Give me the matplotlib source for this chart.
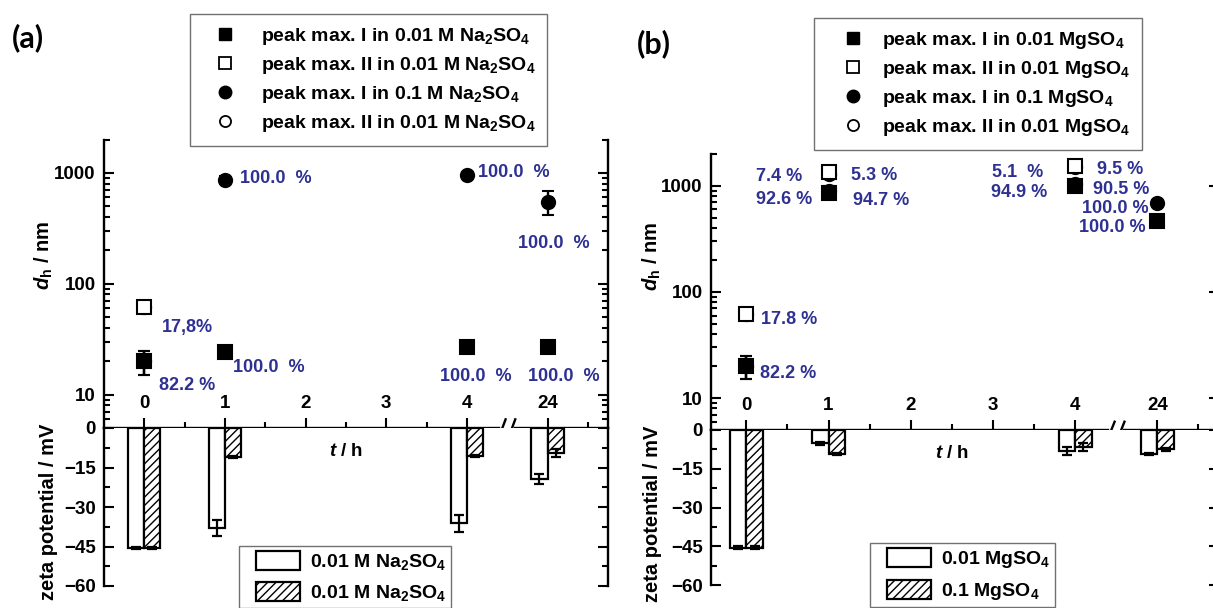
import matplotlib
matplotlib.use('Agg')
import matplotlib.pyplot as plt
import numpy as np
from matplotlib.lines import Line2D
from matplotlib.patches import Patch, Rectangle
from matplotlib.legend_handler import HandlerPatch
from matplotlib.ticker import FixedLocator, FixedFormatter, LogLocator, NullFormatter

plt.rcParams['font.family'] = ['Liberation Sans', 'DejaVu Sans']
plt.rcParams['font.weight'] = 'bold'
plt.rcParams['font.size'] = 13
plt.rcParams['mathtext.fontset'] = 'custom'
plt.rcParams['mathtext.rm'] = 'Liberation Sans:bold'
plt.rcParams['mathtext.it'] = 'Liberation Sans:bold:italic'
plt.rcParams['mathtext.bf'] = 'Liberation Sans:bold'
plt.rcParams['hatch.linewidth'] = 1.0

# time axis: 24 h sits after a break, one slot to the right of 4 h
time_labels = ['0', '1', '2', '3', '4', '24']
time_pos = [0, 1, 2, 3, 4, 5]
meas_pos = np.array([0, 1, 4, 5])

# (a) Na2SO4 - hydrodynamic diameter / nm
a_sq_fill = [20, 24, 27, 27]
a_sq_fill_err = [5, 2, 2, 2]
a_sq_open = [62]
a_sq_open_err = [4]
a_ci_fill = [20, 870, 960, 550]
a_ci_fill_err = [5, 60, 60, 130]
a_ci_open = [62]
a_ci_open_err = [4]
# zeta potential / mV
a_zeta_low = [-45.5, -38.0, -36.2, -19.4]
a_zeta_low_err = [0.5, 3.0, 3.3, 2.0]
a_zeta_high = [-45.5, -11.0, -10.7, -9.5]
a_zeta_high_err = [0.5, 0.5, 0.5, 1.5]

# (b) MgSO4
b_sq_fill = [20, 850, 1000, 470]
b_sq_fill_err = [5, 80, 90, 50]
b_sq_open = [62, 1350, 1550]
b_sq_open_err = [4, 120, 120]
b_ci_fill = [20, 900, 1050, 690]
b_ci_fill_err = [5, 90, 80, 50]
b_ci_open = [62, 1300, 1500]
b_ci_open_err = [4, 100, 100]
b_zeta_low = [-45.5, -5.2, -8.0, -9.3]
b_zeta_low_err = [0.5, 0.5, 1.5, 0.5]
b_zeta_high = [-45.5, -9.3, -6.5, -7.5]
b_zeta_high_err = [0.5, 0.5, 1.5, 0.5]

# percentage labels: (series, point index, text)
a_pct = [('ci_fill', 1, '100.0  %'), ('ci_fill', 2, '100.0  %'), ('ci_fill', 3, '100.0  %'),
         ('sq_open', 0, '17,8%'), ('sq_fill', 0, '82.2 %'), ('sq_fill', 1, '100.0  %'),
         ('sq_fill', 2, '100.0  %'), ('sq_fill', 3, '100.0  %')]
b_pct = [('sq_open', 0, '17.8 %'), ('sq_fill', 0, '82.2 %'),
         ('sq_open', 1, '7.4 %'), ('sq_fill', 1, '92.6 %'), ('ci_open', 1, '5.3 %'), ('ci_fill', 1, '94.7 %'),
         ('sq_open', 2, '5.1  %'), ('sq_fill', 2, '94.9 %'), ('ci_open', 2, '9.5 %'), ('ci_fill', 2, '90.5 %'),
         ('ci_fill', 3, '100.0 %'), ('sq_fill', 3, '100.0 %')]
# label placement: pixel offset from the point, alignment
a_pct_pos = [(15, 1, 'left'), (11, 2, 'left'), (-30, -42, 'left'), (18, -21, 'left'), (15, -24, 'left'),
             (8, -15, 'left'), (-27, -30, 'left'), (-20, -30, 'left')]
b_pct_pos = [(15, -5, 'left'), (14, -7, 'left'),
             (-26, -4, 'right'), (-16, -6, 'right'), (22, -2, 'left'), (24, -10, 'left'),
             (-32, -7, 'right'), (-28, -7, 'right'), (22, -2, 'left'), (18, -6, 'left'),
             (-9, -5, 'right'), (-12, -7, 'right')]

a_legend = ['peak max. I in 0.01 M Na$_2$SO$_4$', 'peak max. II in 0.01 M Na$_2$SO$_4$',
            'peak max. I in 0.1 M Na$_2$SO$_4$', 'peak max. II in 0.01 M Na$_2$SO$_4$']
b_legend = ['peak max. I in 0.01 MgSO$_4$', 'peak max. II in 0.01 MgSO$_4$',
            'peak max. I in 0.1 MgSO$_4$', 'peak max. II in 0.01 MgSO$_4$']
a_bar_legend = ['0.01 M Na$_2$SO$_4$', '0.01 M Na$_2$SO$_4$']
b_bar_legend = ['0.01 MgSO$_4$', '0.1 MgSO$_4$']

W, H = 1213, 608
fig = plt.figure(figsize=(W / 100, H / 100), dpi=100)
BLUE = '#2e3192'


def px_axes(left, right, top, bottom):
    return fig.add_axes([left / W, 1 - bottom / H, (right - left) / W, (bottom - top) / H])


def style(ax):
    for s in ax.spines.values():
        s.set_linewidth(1.7)
    ax.tick_params(which='both', direction='in', width=1.5, labelsize=13.5, right=True, top=False)
    ax.tick_params(which='major', length=7, pad=6)
    ax.tick_params(which='minor', length=4)


def shifted_patch(legend, orig_handle, xdescent, ydescent, width, height, fontsize):
    return Rectangle((-xdescent + 9, -ydescent), width - 9, height)


def panel(left, right, top, mid, bottom, xlim, series, pct, pct_pos, zeta):
    ax = px_axes(left, right, top, mid)
    bx = px_axes(left, right, mid, bottom)
    ax.patch.set_alpha(0)

    # upper part: log d_h
    ax.set_yscale('log')
    ax.set_ylim(5, 2000)
    ax.set_xlim(xlim)
    ax.spines['top'].set_visible(False)
    style(ax)
    ax.yaxis.set_major_locator(FixedLocator([10, 100, 1000]))
    ax.yaxis.set_major_formatter(FixedFormatter(['10', '100', '1000']))
    ax.yaxis.set_minor_locator(LogLocator(base=10, subs=np.arange(2, 10), numticks=20))
    ax.yaxis.set_minor_formatter(NullFormatter())
    ax.xaxis.set_major_locator(FixedLocator(time_pos))
    ax.xaxis.set_minor_locator(FixedLocator([0.5, 1.5, 2.5, 3.5, 5.5]))
    ax.tick_params(axis='x', which='both', labelbottom=False)
    ax.tick_params(axis='x', which='major', length=7)

    styles = {'ci_open': ('o', 'white'), 'ci_fill': ('o', 'black'),
              'sq_open': ('s', 'white'), 'sq_fill': ('s', 'black')}
    for key in ('ci_open', 'ci_fill', 'sq_open', 'sq_fill'):
        vals, errs = series[key]
        m, fc = styles[key]
        ax.errorbar(meas_pos[:len(vals)], vals, yerr=errs, fmt=m, ms=9.5, mfc=fc, mec='black', mew=1.5,
                    ecolor='black', elinewidth=1.7, capsize=4, capthick=1.7, zorder=3)

    for (key, i, text), (dx, dy, ha) in zip(pct, pct_pos):
        vals = series[key][0]
        ax.annotate(text, xy=(meas_pos[i], vals[i]), xytext=(dx, dy), textcoords='offset pixels',
                    ha=ha, va='center', color=BLUE, fontsize=13)

    tr = ax.get_xaxis_transform()
    for p, lab in zip(time_pos, time_labels):
        ax.annotate(lab, xy=(p, 0), xycoords=tr, xytext=(0, 24), textcoords='offset pixels',
                    ha='center', va='center', fontsize=13.5)

    # axis break at 4.5
    ax.plot([4.45, 4.55], [0, 0], color='white', lw=4, transform=tr, clip_on=False, zorder=5)
    for c in (4.44, 4.56):
        ax.plot([c - 0.04, c + 0.04], [-0.03, 0.03], color='black', lw=1.7, transform=tr,
                clip_on=False, zorder=6)

    # lower part: zeta potential bars
    bx.set_ylim(-60, 0)
    bx.set_xlim(xlim)
    bx.spines['top'].set_visible(False)
    bx.spines['bottom'].set_visible(False)
    style(bx)
    bx.yaxis.set_major_locator(FixedLocator([0, -15, -30, -45, -60]))
    bx.yaxis.set_minor_locator(FixedLocator([-7.5, -22.5, -37.5, -52.5]))
    bx.set_xticks([])

    w = 0.2
    ekw = dict(ecolor='black', elinewidth=1.6, capsize=3.5, capthick=1.6)
    low, low_err, high, high_err = zeta
    bx.bar(meas_pos - w / 2, low, w, yerr=low_err, color='white', edgecolor='black', linewidth=1.6,
           error_kw=ekw)
    bx.bar(meas_pos + w / 2, high, w, yerr=high_err, color='white', edgecolor='black', linewidth=1.6,
           hatch='////', error_kw=ekw)
    bx.annotate('$t$ / h', xy=(2.5, 1), xycoords=bx.get_xaxis_transform(), xytext=(0, -24),
                textcoords='offset pixels', ha='center', va='center', fontsize=13.5)
    return ax, bx


a_series = {'sq_fill': (a_sq_fill, a_sq_fill_err), 'sq_open': (a_sq_open, a_sq_open_err),
            'ci_fill': (a_ci_fill, a_ci_fill_err), 'ci_open': (a_ci_open, a_ci_open_err)}
b_series = {'sq_fill': (b_sq_fill, b_sq_fill_err), 'sq_open': (b_sq_open, b_sq_open_err),
            'ci_fill': (b_ci_fill, b_ci_fill_err), 'ci_open': (b_ci_open, b_ci_open_err)}

panel(104, 608, 139.5, 428, 586, (-0.5, 5.75), a_series, a_pct, a_pct_pos,
      (a_zeta_low, a_zeta_low_err, a_zeta_high, a_zeta_high_err))
panel(711, 1219, 154, 430, 585, (-0.43, 5.75), b_series, b_pct, b_pct_pos,
      (b_zeta_low, b_zeta_low_err, b_zeta_high, b_zeta_high_err))

# axis titles and panel letters
for x0, yd in ((44, 255), (652, 256)):
    fig.text(x0 / W, 1 - yd / H, r'$d_\mathrm{h}$ / nm', rotation=90, ha='center', va='center', fontsize=14.5)
for x0, yz in ((49, 424), (652, 426)):
    fig.text(x0 / W, 1 - yz / H, 'zeta potential / mV', rotation=90, ha='center', va='top', fontsize=14.5)
fig.text(28 / W, 1 - 38 / H, '(a)', family='Lato', weight='bold', fontsize=22, ha='center', va='center')
fig.text(654 / W, 1 - 44 / H, '(b)', family='Lato', weight='bold', fontsize=22, ha='center', va='center')

# point legends
marker_handles = [Line2D([], [], ls='none', marker='s', ms=8, mfc='black', mec='black'),
                  Line2D([], [], ls='none', marker='s', ms=8, mfc='white', mec='black', mew=1.3),
                  Line2D([], [], ls='none', marker='o', ms=9, mfc='black', mec='black'),
                  Line2D([], [], ls='none', marker='o', ms=8, mfc='white', mec='black', mew=1.3)]
for labels, x0, y0, hl, tp in ((a_legend, 190, 14, 2.4, 0.65), (b_legend, 814, 18, 2.8, 0.12)):
    leg = fig.legend(marker_handles, labels, loc='upper left', bbox_to_anchor=(x0 / W, 1 - y0 / H),
                     borderaxespad=0, frameon=True, fancybox=False, edgecolor='0.3', fontsize=14,
                     handlelength=hl, handletextpad=tp, labelspacing=0.42, borderpad=0.6)
    leg.get_frame().set_linewidth(1.0)

# bar legends
bar_handles = [Patch(facecolor='white', edgecolor='black', linewidth=1.6),
               Patch(facecolor='white', edgecolor='black', linewidth=1.6, hatch='////')]
for labels, x0, y0 in ((a_bar_legend, 239, 546), (b_bar_legend, 870, 543)):
    leg = fig.legend(bar_handles, labels, loc='upper left', bbox_to_anchor=(x0 / W, 1 - y0 / H),
                     borderaxespad=0, frameon=True, fancybox=False, edgecolor='0.3', fontsize=14,
                     handlelength=2.9, handleheight=1.15, handletextpad=0.5, labelspacing=0.5,
                     borderpad=0.25, handler_map={Patch: HandlerPatch(patch_func=shifted_patch)})
    leg.get_frame().set_linewidth(1.0)

fig.savefig('out.png', dpi=100)
